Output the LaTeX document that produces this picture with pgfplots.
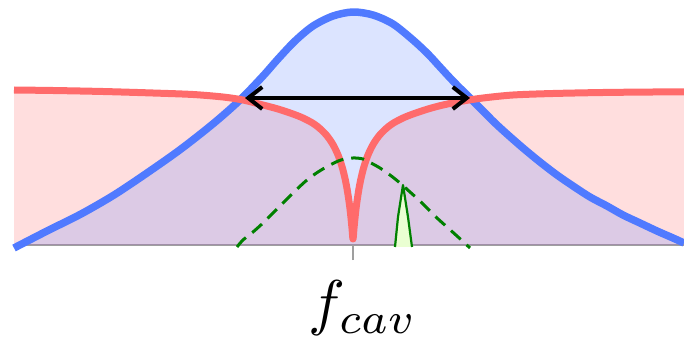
\documentclass[border=0pt]{standalone}
\usepackage{pgfplots}
\pgfplotsset{compat=1.18}
\usetikzlibrary{arrows.meta}

\definecolor{cavblue}{RGB}{80,122,255}
\definecolor{cavred}{RGB}{255,107,107}
\definecolor{lasgreen}{RGB}{0,128,0}
\definecolor{spikefill}{RGB}{234,255,210}

% cavity response (blue)
\pgfplotstableread{
x y
-339 -3
-306 14
-272 31
-239 50
-206 72
-172 96
-139 122
-113 145
-90 169
-75 186
-58 204
-40 219
-20 229
0 233
20 230
40 221
60 205
75 191
87 178
100 164
117 147
130 134
142 122
154 111
170 97
187 83
204 70
220 59
237 48
254 39
270 30
287 22
304 14
320 7
331 2
}\cavity

% transmission with narrow dip (red)
\pgfplotstableread{
x y
-339 155
-300 154.5
-250 153.5
-200 152
-160 150.5
-130 148
-110 145
-90 140
-75 136
-60 131
-50 127
-40 121.7
-33 116.4
-26 109.2
-20 100.4
-15 90.1
-11 78.5
-8 66.6
-6 56.5
-4 43.7
-2.5 31.7
-1 16.8
0 6
1 16.8
2.5 31.7
4 43.7
6 56.5
8 66.6
11 78.5
15 90.1
20 100.4
26 109.2
33 116.4
40 121.7
50 127
60 131
75 136
90 140
110 144
130 147
160 150
200 151.5
250 152.5
300 153
331 153
}\transmission

% pump envelope (green dashed)
\pgfplotstableread{
x y
-116 -2
-110 5
-100 13
-90 22
-80 32
-70 42
-58 54
-46 65
-35 73
-23 80
-12 85
0 87
10 86
18 82
27 77
37 70
47 62
57 53
67 44
76 35
84 27
94 18
104 9
117 -3
}\envelope

\begin{document}
\begin{tikzpicture}
\path[use as bounding box] (0,0) rectangle (684bp,344bp);
\begin{axis}[
  at={(14bp,99bp)}, anchor=south west,
  width=670bp, height=245bp, scale only axis,
  xmin=-339, xmax=331, ymin=0, ymax=245,
  clip=false,
  axis y line=none,
  axis x line=bottom,
  x axis line style={-, draw=gray!75, line width=1.5bp},
  xtick={0}, xticklabels={},
  tick align=outside,
  major tick length=15bp,
  xtick style={draw=gray!75, line width=2bp},
]
% fills
\addplot[draw=none, fill=cavred, fill opacity=0.22, smooth] table {\transmission} \closedcycle;
\addplot[draw=none, fill=cavblue, fill opacity=0.2, smooth] table {\cavity} \closedcycle;
% curves
\addplot[cavblue, line width=7.5bp, smooth, line join=round] table {\cavity};
\addplot[cavred, line width=7bp, smooth, line join=round] table {\transmission};
\addplot[lasgreen, line width=3bp, dash pattern=on 13bp off 8bp, smooth] table {\envelope};
% narrow emission line
\addplot[draw=lasgreen, line width=2.2bp, line join=round, fill=spikefill] coordinates {(42,-2) (45,28) (50,60) (55,28) (59,-2)};
% linewidth marker
\draw[line width=4bp, {Straight Barb[length=14bp,width=22bp]}-{Straight Barb[length=14bp,width=22bp]}]
  (axis cs:-108,147) -- (axis cs:117,147);
\node[anchor=base, inner sep=0pt, scale=6.2] at (axis cs:10,-79) {$f_{cav}$};
\end{axis}
\end{tikzpicture}
\end{document}
